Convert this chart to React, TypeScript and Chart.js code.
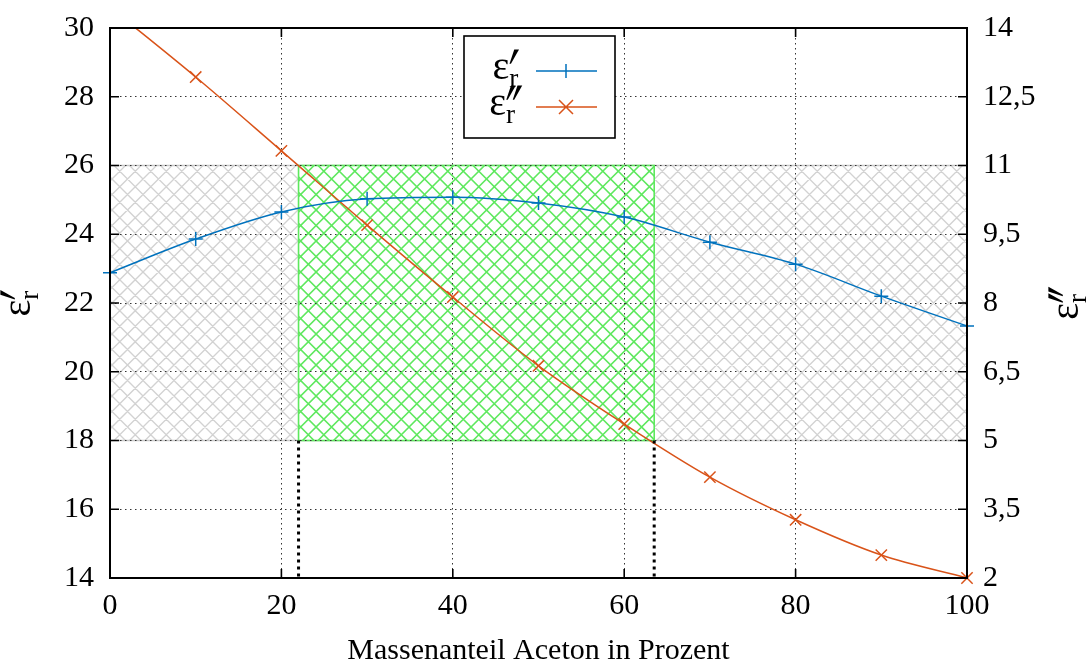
import React, { useEffect, useRef } from "react";
import { Chart, registerables } from "chart.js";
Chart.register(...registerables);

const massPercent = [0, 10, 20, 30, 40, 50, 60, 70, 80, 90, 100];
const epsReal = [22.88, 23.86, 24.65, 25.03, 25.08, 24.91, 24.5, 23.77, 23.13, 22.2, 21.33];
const epsImag = [14.45, 12.93, 11.32, 9.7, 8.13, 6.63, 5.36, 4.2, 3.27, 2.5, 2.0];
const xTicks = [0, 20, 40, 60, 80, 100];
const yLeftTicks = [14, 16, 18, 20, 22, 24, 26, 28, 30];
const yRightTicks = [2, 3.5, 5, 6.5, 8, 9.5, 11, 12.5, 14];
const grayBandX = [0, 100];
const bandY = [18, 26];
const greenBandX = [22, 63.5];

const FONT = "'Liberation Serif', 'Times New Roman', serif";
const BLUE = "#0072bd";
const ORANGE = "#d95319";

function hatch(ctx: CanvasRenderingContext2D, x0: number, y0: number, x1: number, y1: number, color: string, lw: number, p: number) {
  const w = x1 - x0, h = y1 - y0;
  ctx.save();
  ctx.beginPath();
  ctx.rect(x0, y0, w, h);
  ctx.clip();
  ctx.strokeStyle = color;
  ctx.lineWidth = lw;
  ctx.beginPath();
  for (let k = -h - p; k <= w + p; k += p) {
    ctx.moveTo(x0 + k, y0);
    ctx.lineTo(x0 + k + h, y1);
    ctx.moveTo(x0 + k + h, y0);
    ctx.lineTo(x0 + k, y1);
  }
  ctx.stroke();
  ctx.restore();
}

function primeStroke(ctx: CanvasRenderingContext2D, x: number, y: number, s: number) {
  ctx.beginPath();
  ctx.moveTo(x + 0.05 * s, y);
  ctx.lineTo(x + 0.38 * s, y);
  ctx.lineTo(x - 0.18 * s, y + s);
  ctx.lineTo(x - 0.28 * s, y + s);
  ctx.closePath();
  ctx.fill();
}

function drawEps(ctx: CanvasRenderingContext2D, cx: number, cy: number, nPrimes: number, angle: number, size: number) {
  ctx.save();
  ctx.translate(cx, cy);
  ctx.rotate(angle);
  ctx.fillStyle = "#000";
  ctx.textBaseline = "alphabetic";
  ctx.textAlign = "left";
  ctx.font = `${size}px ${FONT}`;
  const wE = ctx.measureText("ε").width;
  const sub = size * 0.68;
  ctx.font = `${sub}px ${FONT}`;
  const wR = ctx.measureText("r").width;
  const pH = size * 0.36;
  const wP = nPrimes * pH * 0.45 + pH * 0.2;
  const total = wE + Math.max(wR, wP) + 1;
  const sx = -total / 2;
  const base = size * 0.2;
  ctx.font = `${size}px ${FONT}`;
  ctx.fillText("ε", sx, base);
  ctx.font = `${sub}px ${FONT}`;
  ctx.fillText("r", sx + wE, base + size * 0.2);
  for (let i = 0; i < nPrimes; i++) {
    primeStroke(ctx, sx + wE + pH * 0.3 + i * pH * 0.45, base - size * 0.74, pH);
  }
  ctx.restore();
}

const decorPlugin = {
  id: "decor",
  beforeDraw(chart: any) {
    const { ctx } = chart;
    const xs = chart.scales.x, ys = chart.scales.y;
    const top = ys.getPixelForValue(bandY[1]);
    const bot = ys.getPixelForValue(bandY[0]);
    const gx0 = xs.getPixelForValue(grayBandX[0]);
    const gx1 = xs.getPixelForValue(grayBandX[1]);
    hatch(ctx, gx0, top, gx1, bot, "#d2d2d2", 1.3, 15.5);
    ctx.save();
    ctx.strokeStyle = "#c8c8c8";
    ctx.lineWidth = 1.5;
    ctx.beginPath();
    ctx.moveTo(gx0, top); ctx.lineTo(gx1, top);
    ctx.moveTo(gx0, bot); ctx.lineTo(gx1, bot);
    ctx.stroke();
    ctx.restore();
    const rx0 = xs.getPixelForValue(greenBandX[0]);
    const rx1 = xs.getPixelForValue(greenBandX[1]);
    ctx.save();
    ctx.fillStyle = "#ffffff";
    ctx.fillRect(rx0, top, rx1 - rx0, bot - top);
    ctx.restore();
    hatch(ctx, rx0, top, rx1, bot, "#5ee85e", 1.6, 15.5);
    ctx.save();
    ctx.strokeStyle = "#5ee85e";
    ctx.lineWidth = 1.6;
    ctx.strokeRect(rx0, top, rx1 - rx0, bot - top);
    ctx.restore();
  },
  afterDatasetsDraw(chart: any) {
    const { ctx, chartArea: a } = chart;
    const xs = chart.scales.x, ys = chart.scales.y, y1 = chart.scales.y1;
    const bot = ys.getPixelForValue(bandY[0]);
    ctx.save();
    ctx.strokeStyle = "#000";
    ctx.lineWidth = 3;
    ctx.setLineDash([3, 4]);
    for (const v of greenBandX) {
      const px = xs.getPixelForValue(v);
      ctx.beginPath();
      ctx.moveTo(px, bot);
      ctx.lineTo(px, a.bottom);
      ctx.stroke();
    }
    ctx.restore();

    ctx.save();
    ctx.strokeStyle = "#000";
    ctx.lineWidth = 1.6;
    const tl = 9;
    ctx.beginPath();
    for (const v of xTicks) {
      const px = xs.getPixelForValue(v);
      ctx.moveTo(px, a.bottom); ctx.lineTo(px, a.bottom - tl);
      ctx.moveTo(px, a.top); ctx.lineTo(px, a.top + tl);
    }
    for (const v of yLeftTicks) {
      const py = ys.getPixelForValue(v);
      ctx.moveTo(a.left, py); ctx.lineTo(a.left + tl, py);
    }
    for (const v of yRightTicks) {
      const py = y1.getPixelForValue(v);
      ctx.moveTo(a.right, py); ctx.lineTo(a.right - tl, py);
    }
    ctx.stroke();
    ctx.lineWidth = 2;
    ctx.strokeRect(a.left, a.top, a.right - a.left, a.bottom - a.top);
    ctx.restore();

    ctx.save();
    const lx0 = 464, ly0 = 36, lx1 = 615, ly1 = 138;
    ctx.fillStyle = "#fff";
    ctx.fillRect(lx0, ly0, lx1 - lx0, ly1 - ly0);
    ctx.strokeStyle = "#000";
    ctx.lineWidth = 1.6;
    ctx.strokeRect(lx0, ly0, lx1 - lx0, ly1 - ly0);
    const rows = [
      { y: 71, primes: 1, color: BLUE, mark: "plus" },
      { y: 107, primes: 2, color: ORANGE, mark: "x" },
    ];
    for (const r of rows) {
      drawEps(ctx, 506, r.y, r.primes, 0, 40);
      ctx.strokeStyle = r.color;
      ctx.lineWidth = 1.5;
      ctx.beginPath();
      ctx.moveTo(536, r.y); ctx.lineTo(597, r.y);
      const m = 7;
      if (r.mark === "plus") {
        ctx.moveTo(566, r.y - m); ctx.lineTo(566, r.y + m);
      } else {
        ctx.moveTo(566 - m, r.y - m); ctx.lineTo(566 + m, r.y + m);
        ctx.moveTo(566 + m, r.y - m); ctx.lineTo(566 - m, r.y + m);
      }
      ctx.stroke();
    }
    ctx.restore();

    const cy = (a.top + a.bottom) / 2;
    drawEps(ctx, 22, cy, 1, -Math.PI / 2, 40);
    drawEps(ctx, 1070, cy, 2, -Math.PI / 2, 40);
    ctx.save();
    ctx.fillStyle = "#000";
    ctx.font = `30px ${FONT}`;
    ctx.textAlign = "center";
    ctx.textBaseline = "alphabetic";
    ctx.fillText("Massenanteil Aceton in Prozent", (a.left + a.right) / 2, 659);
    ctx.restore();
  },
};

const zeroPadV = (s: any) => { s.paddingTop = 0; s.paddingBottom = 0; };

export default function App() {
  const ref = useRef<HTMLCanvasElement>(null);
  useEffect(() => {
    document.body.style.margin = "0";
    const canvas = ref.current!;
    const chart = new Chart(canvas, {
      type: "line",
      data: {
        datasets: [
          {
            label: "ε′r",
            data: massPercent.map((x, i) => ({ x, y: epsReal[i] })),
            yAxisID: "y",
            borderColor: BLUE,
            backgroundColor: BLUE,
            borderWidth: 1.5,
            pointStyle: "cross",
            pointRadius: 7,
            pointBorderWidth: 1.5,
            pointHoverRadius: 7,
            cubicInterpolationMode: "monotone",
            clip: 12,
          },
          {
            label: "ε″r",
            data: massPercent.map((x, i) => ({ x, y: epsImag[i] })),
            yAxisID: "y1",
            borderColor: ORANGE,
            backgroundColor: ORANGE,
            borderWidth: 1.5,
            pointStyle: "crossRot",
            pointRadius: 8,
            pointBorderWidth: 1.5,
            pointHoverRadius: 8,
            cubicInterpolationMode: "monotone",
            clip: { left: 12, right: 12, bottom: 12, top: 0 },
          },
        ],
      },
      options: {
        animation: false,
        responsive: false,
        maintainAspectRatio: false,
        layout: { padding: { top: 28, left: 0, right: 0, bottom: 0 } },
        plugins: { legend: { display: false }, tooltip: { enabled: false } },
        scales: {
          x: {
            type: "linear",
            min: 0,
            max: 100,
            afterFit: (s: any) => { s.height = 86; s.paddingLeft = 0; s.paddingRight = 0; },
            afterBuildTicks: (s: any) => { s.ticks = xTicks.map((v) => ({ value: v })); },
            border: { display: false, dash: [1.5, 3.5] },
            grid: { color: "#333", lineWidth: 1, drawTicks: false },
            ticks: { color: "#000", font: { family: FONT, size: 30 }, padding: 10, maxRotation: 0 },
          },
          y: {
            type: "linear",
            position: "left",
            min: 14,
            max: 30,
            afterFit: (s: any) => { s.width = 110; zeroPadV(s); },
            afterBuildTicks: (s: any) => { s.ticks = yLeftTicks.map((v) => ({ value: v })); },
            border: { display: false, dash: [1.5, 3.5] },
            grid: { color: "#333", lineWidth: 1, drawTicks: false },
            ticks: { color: "#000", font: { family: FONT, size: 30 }, padding: 16 },
          },
          y1: {
            type: "linear",
            position: "right",
            min: 2,
            max: 14,
            afterFit: (s: any) => { s.width = 124; zeroPadV(s); },
            afterBuildTicks: (s: any) => { s.ticks = yRightTicks.map((v) => ({ value: v })); },
            border: { display: false },
            grid: { display: false, drawTicks: false },
            ticks: {
              color: "#000",
              font: { family: FONT, size: 30 },
              padding: 16,
              callback: (v: any) => String(v).replace(".", ","),
            },
          },
        },
      },
      plugins: [decorPlugin],
    });
    return () => chart.destroy();
  }, []);
  return <canvas ref={ref} width={1091} height={664} style={{ display: "block" }} />;
}
